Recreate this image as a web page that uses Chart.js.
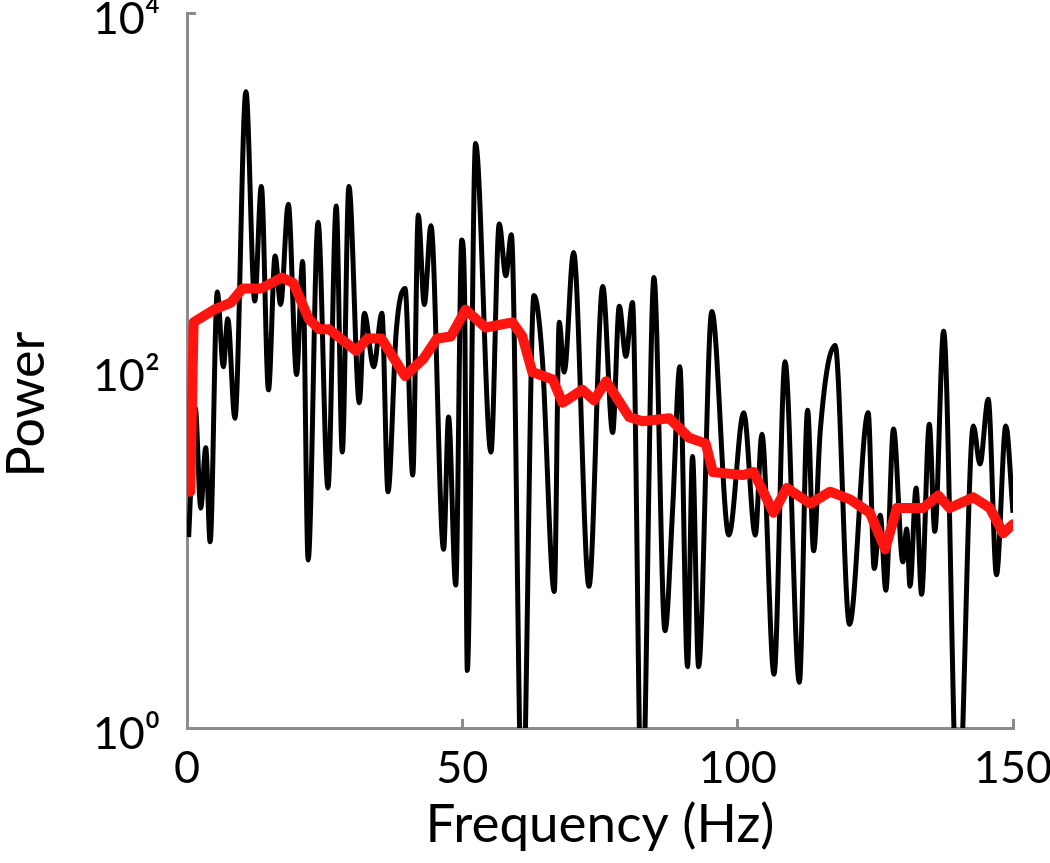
<!DOCTYPE html>
<html>
<head>
<meta charset="utf-8">
<script src="https://cdn.jsdelivr.net/npm/chart.js@4/dist/chart.umd.min.js"></script>
<style>
  html, body { margin: 0; padding: 0; background: #fff; }
  #wrap { width: 1050px; height: 863px; }
</style>
</head>
<body>
<div id="wrap"><canvas id="psd"></canvas></div>
<script>
// raw spectrum (black) at its peaks and troughs
var rawFreq = [0.3, 1.5, 2.5, 3.4, 4.2, 5.5, 6.6, 7.4, 8.7, 10.7, 12.3, 13.5, 14.8, 16.0, 17.0, 18.4, 19.9, 21.0, 22.0, 23.8,
  25.6, 27.1, 28.2, 29.4, 31.3, 32.2, 33.9, 35.4, 36.5, 38.0, 39.6, 41.0, 42.0, 43.1, 44.3, 46.6, 47.5, 48.8, 49.9, 50.4,
  50.9, 52.4, 55.2, 56.7, 57.9, 58.9, 60.9, 63.0, 64.5, 66.7, 67.6, 68.5, 70.2, 73.0, 75.5, 77.3, 78.5, 79.7, 80.9, 82.6,
  84.8, 86.8, 88.2, 89.5, 90.9, 91.8, 92.9, 95.3, 98.4, 101.1, 103.2, 104.4, 106.6, 108.6, 111.2, 112.7, 113.8, 115.0, 117.7, 120.3,
  123.7, 124.8, 125.9, 126.9, 128.3, 130.0, 130.7, 131.3, 132.4, 133.4, 134.8, 135.8, 137.4, 140.0, 142.8, 144.0, 145.5, 147.0, 148.7, 150.0];
var rawPower = [11.7, 62, 17, 37, 11, 275, 105, 195, 54, 3630, 245, 1070, 78, 437, 234, 851, 95, 407, 8.7, 676,
  22, 832, 35, 1070, 66, 209, 105, 209, 21, 166, 288, 26, 741, 234, 646, 10, 55, 6.3, 537, 275,
  2.1, 1860, 35, 661, 339, 575, 0.3, 263, 120, 5.8, 186, 98, 457, 6.2, 295, 45, 229, 120, 240, 0.3,
  331, 3.5, 17, 105, 2.2, 33, 2.2, 214, 12, 58, 12, 44, 2.0, 112, 1.8, 60, 9.8, 46, 138, 3.8,
  58, 7.8, 15.5, 5.9, 47, 8.5, 13, 6.2, 22, 5.6, 50, 12.6, 166, 0.3, 49, 30, 69, 7.2, 49, 16];

// smoothed spectrum (red)
var smoothFreq = [0.6, 1.2, 4.9, 8.0, 10.1, 13.5, 17.2, 19.3, 22.1, 24.0, 25.8, 30.7, 32.8, 35.3, 39.6, 43.0, 45.4, 47.9, 50.6, 54.2,
  59.1, 60.9, 62.7, 66.4, 68.2, 71.8, 73.9, 76.1, 80.3, 82.7, 87.6, 91.2, 94.2, 95.5, 100.9, 102.9, 106.5, 108.9, 113.2, 116.8,
  120.4, 124.0, 126.8, 128.9, 133.7, 136.4, 138.5, 142.8, 145.8, 148.2, 150.0];
var smoothPower = [21, 186, 219, 240, 288, 288, 331, 309, 195, 170, 170, 129, 151, 151, 93, 117, 151, 155, 219, 174,
  186, 155, 98, 89, 66, 78, 68, 87, 55, 52, 54, 42, 39, 27, 26, 27, 16, 22, 18, 21,
  19, 16, 10, 17, 17, 20, 17, 19.5, 17, 12.3, 13.8];

var xTicks = [0, 50, 100, 150];
var yTicks = [1, 100, 10000];
var yTickText = { 1: '10\u2070', 100: '10\u00b2', 10000: '10\u2074' };
var yTitle = 'Power';
var xTitle = 'Frequency (Hz)';

function pts(xs, ys) {
  return xs.map(function (x, i) { return { x: x, y: ys[i] }; });
}

var fontFam = 'Lato, "Open Sans", sans-serif';
var axisGrey = '#8c8c8c';

// y title sits a little below the middle of the axis in the original
var yTitlePlugin = {
  id: 'yTitle',
  afterDraw: function (chart) {
    var c = chart.ctx, a = chart.chartArea;
    c.save();
    c.translate(27, (a.top + a.bottom) / 2 + 34);
    c.rotate(-Math.PI / 2);
    c.fillStyle = '#000';
    c.font = '52px ' + fontFam;
    c.textAlign = 'center';
    c.textBaseline = 'middle';
    c.fillText(yTitle, 0, 0);
    c.restore();
  }
};

var myChart = new Chart('psd', {
  type: 'line',
  data: {
    datasets: [
      {
        label: 'Smoothed',
        data: pts(smoothFreq, smoothPower),
        borderColor: '#ff1510',
        borderWidth: 10,
        pointRadius: 0,
        tension: 0,
        borderJoinStyle: 'round',
        borderCapStyle: 'round',
        order: 0
      },
      {
        label: 'Power',
        data: pts(rawFreq, rawPower),
        borderColor: '#000',
        borderWidth: 5,
        pointRadius: 0,
        cubicInterpolationMode: 'monotone',
        order: 1
      }
    ]
  },
  plugins: [yTitlePlugin],
  options: {
    responsive: true,
    maintainAspectRatio: false,
    animation: false,
    layout: { padding: { left: 0, right: 37, top: 13, bottom: 0 } },
    plugins: { legend: { display: false }, tooltip: { enabled: false } },
    scales: {
      x: {
        type: 'linear',
        min: 0,
        max: 150,
        afterBuildTicks: function (s) { s.ticks = xTicks.map(function (v) { return { value: v }; }); },
        afterFit: function (s) { s.height = 135; s.paddingLeft = 0; s.paddingRight = 0; },
        grid: { display: true, drawOnChartArea: false, drawTicks: true, tickLength: -9, color: axisGrey, lineWidth: 3 },
        border: { color: axisGrey, width: 3 },
        ticks: { color: '#000', font: { family: fontFam, size: 45 }, padding: 22, maxRotation: 0 },
        title: { display: true, text: xTitle, color: '#000', font: { family: fontFam, size: 53 }, padding: { top: 0, bottom: 6 } }
      },
      y: {
        type: 'logarithmic',
        min: 1,
        max: 10000,
        afterBuildTicks: function (s) { s.ticks = yTicks.map(function (v) { return { value: v }; }); },
        afterFit: function (s) { s.width = 187; s.paddingTop = 0; s.paddingBottom = 0; },
        grid: { display: true, drawOnChartArea: false, drawTicks: true, tickLength: -9, color: axisGrey, lineWidth: 3 },
        border: { color: axisGrey, width: 3 },
        ticks: {
          color: '#000',
          font: { family: fontFam, size: 45 },
          padding: 36,
          labelOffset: 6,
          callback: function (v) { return yTickText[v] || ''; }
        },
        title: { display: false }
      }
    }
  }
});
</script>
</body>
</html>
